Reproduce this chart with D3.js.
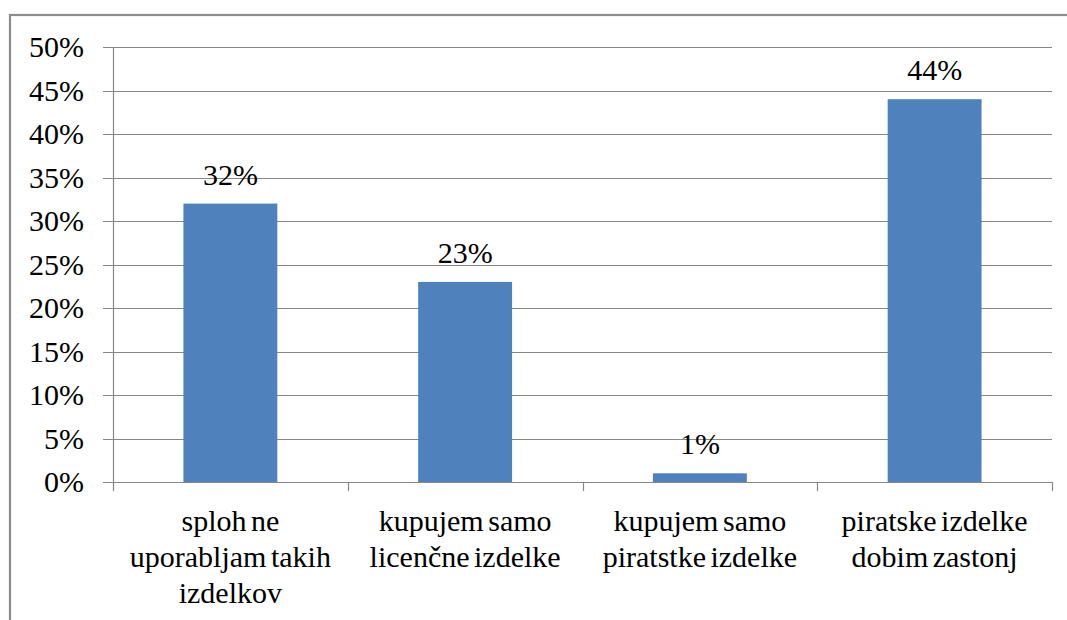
<!DOCTYPE html>
<html>
<head>
<meta charset="utf-8">
<script src="https://cdn.jsdelivr.net/npm/d3@7"></script>
</head>
<body style="margin:0">
<svg id="s" width="1067" height="620"></svg>
<script>
const categories = [
  ["sploh ne", "uporabljam takih", "izdelkov"],
  ["kupujem samo", "licenčne izdelke"],
  ["kupujem samo", "piratstke izdelke"],
  ["piratske izdelke", "dobim zastonj"]
];
const values = [32, 23, 1, 44];
const tickValues = [0, 5, 10, 15, 20, 25, 30, 35, 40, 45, 50];

(function () {
const svg = d3.select("#s");
const pLeft = 113, pRight = 1052, pTop = 47, pBottom = 482;
const fontSize = 30;
const fname = ["Liberation", "Serif"].join(" ");
const FONT = "'" + fname + "'";

function styleText(sel) {
  return sel
    .attr("font-family", FONT)
    .attr("font-size", fontSize);
}

svg.append("rect")
  .attr("x", 10).attr("y", 15)
  .attr("width", 1070).attr("height", 620)
  .attr("fill", "none").attr("stroke", "#8c8c8c").attr("stroke-width", 2.2);

const idx = categories.map((d, i) => i);
const xCat = d3.scaleBand().domain(idx).range([pLeft, pRight]).padding(0);
const xBar = d3.scaleBand().domain(idx).range([pLeft, pRight]).paddingInner(0.6).paddingOuter(0.3);
const y = d3.scaleLinear().domain([0, 50]).range([pBottom, pTop]);

svg.selectAll("line.grid").data(tickValues).join("line")
  .attr("class", "grid")
  .attr("x1", pLeft - 10).attr("x2", pRight)
  .attr("y1", d => Math.round(y(d)) + 0.5).attr("y2", d => Math.round(y(d)) + 0.5)
  .attr("stroke", "#878787").attr("stroke-width", 1.2);

svg.append("line")
  .attr("x1", pLeft + 0.5).attr("x2", pLeft + 0.5)
  .attr("y1", pTop).attr("y2", pBottom)
  .attr("stroke", "#878787").attr("stroke-width", 1.2);

styleText(svg.selectAll("text.ylab").data(tickValues).join("text")
  .attr("class", "ylab")
  .attr("x", pLeft - 29).attr("y", d => y(d) + 10))
  .attr("text-anchor", "end")
  .text(d => d + "%");

const xTicks = idx.map(i => xCat(i)).concat([xCat(idx[idx.length - 1]) + xCat.bandwidth()]);
svg.selectAll("line.xtick").data(xTicks).join("line")
  .attr("class", "xtick")
  .attr("x1", d => Math.round(d) + 0.5).attr("x2", d => Math.round(d) + 0.5)
  .attr("y1", pBottom).attr("y2", pBottom + 9)
  .attr("stroke", "#878787").attr("stroke-width", 1.2);

svg.selectAll("rect.bar").data(values).join("rect")
  .attr("class", "bar")
  .attr("x", (d, i) => xBar(i))
  .attr("width", xBar.bandwidth())
  .attr("y", d => y(d))
  .attr("height", d => y(0) - y(d))
  .attr("fill", "#4F81BD");

svg.append("line")
  .attr("x1", pLeft).attr("x2", pRight)
  .attr("y1", Math.round(y(0)) + 0.5).attr("y2", Math.round(y(0)) + 0.5)
  .attr("stroke", "#878787").attr("stroke-width", 1.2);

styleText(svg.selectAll("text.dlab").data(values).join("text")
  .attr("class", "dlab")
  .attr("x", (d, i) => xBar(i) + xBar.bandwidth() / 2)
  .attr("y", d => y(d) - 19))
  .attr("text-anchor", "middle")
  .text(d => d + "%");

categories.forEach((lines, i) => {
  lines.forEach((ln, j) => {
    styleText(svg.append("text")
      .attr("x", xCat(i) + xCat.bandwidth() / 2)
      .attr("y", 531 + j * 36))
      .attr("text-anchor", "middle")
      .attr("word-spacing", -3)
      .text(ln);
  });
});
})();
</script>
</body>
</html>
